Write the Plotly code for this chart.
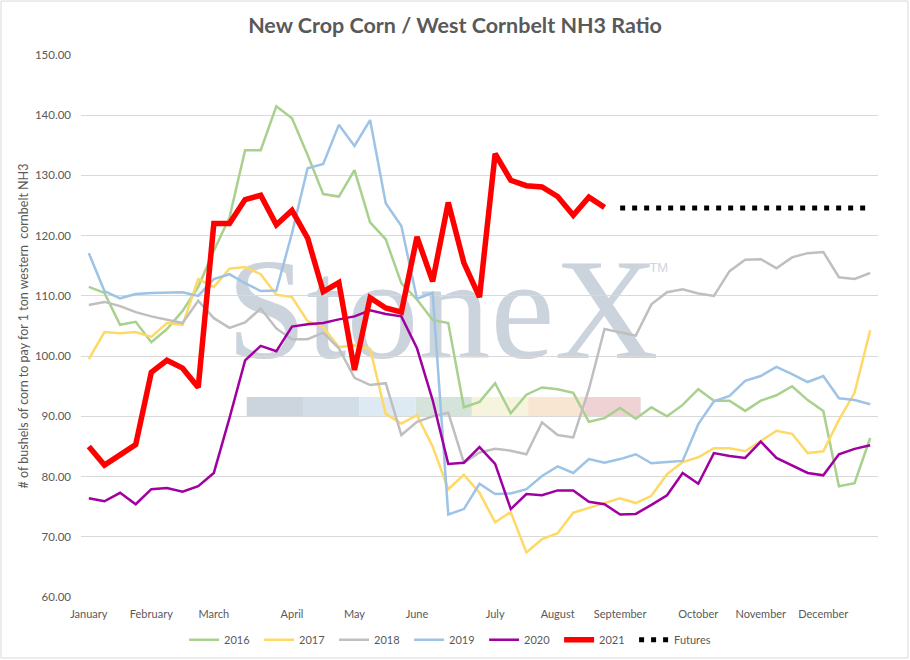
import plotly.graph_objects as go

# weekly points, index 0 = first week of January
weeks = list(range(51))
month_pos = [0, 4, 8, 13, 17, 21, 26, 30, 34, 39, 43, 47]
month_names = ["January", "February", "March", "April", "May", "June", "July",
               "August", "September", "October", "November", "December"]

y2016 = [111.5, 110.5, 105.2, 105.7, 102.3, 104.5, 107.5, 111.5, 117.5, 123.0,
         134.2, 134.2, 141.5, 139.5, 133.4, 126.9, 126.5, 130.9, 122.2, 119.4,
         112.1, 109.4, 106.0, 105.5, 91.5, 92.4, 95.5, 90.5, 93.6, 94.8,
         94.5, 93.9, 89.1, 89.7, 91.4, 89.6, 91.5, 90.0, 91.9, 94.5,
         92.6, 92.6, 90.9, 92.6, 93.5, 95.0, 92.7, 90.9, 78.4, 78.9, 86.4]
y2017 = [99.5, 104.0, 103.8, 104.0, 103.2, 105.5, 105.2, 112.8, 111.5, 114.5,
         114.8, 113.6, 110.2, 109.8, 105.8, 104.8, 101.5, 101.8, 101.2, 90.4,
         88.8, 90.2, 85.0, 77.9, 80.3, 77.3, 72.4, 74.1, 67.4, 69.6,
         70.6, 74.0, 74.8, 75.6, 76.4, 75.6, 76.8, 80.4, 82.4, 83.2,
         84.7, 84.7, 84.2, 85.9, 87.6, 87.1, 83.9, 84.2, 89.4, 93.9, 104.3]
y2018 = [108.5, 109.0, 108.3, 107.3, 106.6, 106.0, 105.5, 109.2, 106.3, 104.7,
         105.6, 107.9, 104.6, 102.8, 102.8, 103.9, 101.3, 96.4, 95.2, 95.5,
         86.9, 89.1, 90.0, 90.6, 82.3, 84.0, 84.6, 84.3, 83.7, 89.0,
         86.9, 86.5, 94.5, 104.5, 104.0, 103.4, 108.6, 110.6, 111.1, 110.4,
         110.0, 114.1, 116.0, 116.1, 114.6, 116.4, 117.1, 117.3, 113.1, 112.8, 113.8]
y2019 = [117.1, 110.8, 109.6, 110.3, 110.5, 110.6, 110.6, 110.0, 112.8, 113.6,
         112.1, 110.8, 110.9, 120.4, 131.2, 131.9, 138.4, 134.9, 139.2, 125.4,
         121.6, 109.5, 110.5, 73.7, 74.6, 78.8, 77.1, 77.2, 77.9, 80.1,
         81.7, 80.6, 82.9, 82.3, 82.9, 83.7, 82.2, 82.4, 82.6, 88.7,
         92.5, 93.4, 95.9, 96.7, 98.2, 97.0, 95.7, 96.7, 93.0, 92.7, 92.0]
y2020 = [76.4, 75.9, 77.3, 75.4, 77.9, 78.1, 77.5, 78.4, 80.6, 89.7,
         99.3, 101.7, 100.8, 104.9, 105.3, 105.5, 106.1, 106.6, 107.6, 107.0,
         106.6, 101.3, 92.7, 82.1, 82.3, 84.9, 82.1, 74.6, 77.1, 76.9,
         77.7, 77.7, 75.8, 75.4, 73.7, 73.8, 75.3, 76.9, 80.6, 78.8,
         83.9, 83.4, 83.1, 85.8, 83.1, 81.9, 80.6, 80.2, 83.7, 84.6, 85.2]
y2021 = [85.0, 81.9, 83.6, 85.3, 97.3, 99.3, 98.0, 94.8, 122.0, 122.0,
         126.0, 126.7, 121.8, 124.2, 119.6, 110.7, 112.2, 97.7, 109.7, 108.0,
         107.3, 119.8, 112.4, 125.5, 115.5, 109.8, 133.6, 129.2, 128.3, 128.1,
         126.5, 123.4, 126.4, 124.7]
futures_weeks = weeks[34:]
futures = [124.6, 124.6, 124.6, 124.6, 124.6, 124.6, 124.6, 124.6, 124.6,
           124.6, 124.6, 124.6, 124.6, 124.6, 124.6, 124.6, 124.6]

series = [
    ("2016", y2016, "#A9D18E", 2.5),
    ("2017", y2017, "#FFD966", 2.5),
    ("2018", y2018, "#BFBFBF", 2.5),
    ("2019", y2019, "#9DC3E6", 2.5),
    ("2020", y2020, "#A100A1", 2.5),
    ("2021", y2021, "#FF0000", 5.5),
]

fig = go.Figure()
for name, vals, color, w in series:
    fig.add_trace(go.Scatter(x=weeks[:len(vals)], y=vals, mode="lines", name=name,
                             line=dict(color=color, width=w)))
fig.add_trace(go.Scatter(x=futures_weeks, y=futures, mode="lines", name="Futures",
                         legendwidth=48,
                         line=dict(color="black", width=5, dash="5px,7px")))

# StoneX watermark behind the lines
band_colors = ["#ccd4dd", "#d3dde8", "#deeaf3", "#d4e4da", "#f6f4dc", "#f8e6d2", "#efd2d4"]
shapes = []
seg = 0.0706
for k, c in enumerate(band_colors):
    shapes.append(dict(type="rect", xref="paper", yref="paper", layer="below",
                       x0=0.208 + k * seg, x1=0.208 + (k + 1) * seg, y0=0.332, y1=0.369,
                       fillcolor=c, line=dict(width=0)))
shapes.append(dict(type="rect", xref="paper", yref="paper", layer="below",
                   x0=0.208, x1=0.699, y0=0.46, y1=0.66,
                   fillcolor="rgba(0,0,0,0)", line=dict(width=0),
                   label=dict(text="StoneX", textposition="middle center",
                              font=dict(family="Liberation Serif", size=144, color="#cbd3dc"))))
shapes.append(dict(type="rect", xref="paper", yref="paper", layer="below",
                   x0=0.71, x1=0.74, y0=0.59, y1=0.63,
                   fillcolor="rgba(0,0,0,0)", line=dict(width=0),
                   label=dict(text="TM", textposition="middle center",
                              font=dict(family="Liberation Sans", size=13, color="#cfd5dd"))))
# outer border
shapes.append(dict(type="rect", xref="paper", yref="paper", layer="below",
                   x0=-0.1004, x1=1.0376, y0=-0.1125, y1=1.0996,
                   fillcolor="rgba(0,0,0,0)", line=dict(color="#d9d9d9", width=1)))

fig.update_layout(
    width=910, height=660,
    margin=dict(l=81, r=32, t=55, b=63, autoexpand=False),
    paper_bgcolor="white", plot_bgcolor="white",
    font=dict(family="Lato", size=11, color="#595959"),
    title=dict(text="<b>New Crop Corn / West Cornbelt NH3 Ratio</b>",
               x=0.5, xref="container", xanchor="center",
               y=1 - 25 / 660, yref="container", yanchor="middle",
               font=dict(family="Lato", size=21.5, color="#595959")),
    xaxis=dict(range=[-0.5, 50.5], tickmode="array", tickvals=month_pos, ticktext=month_names,
               showgrid=False, zeroline=False, showline=False, ticks="",
               ticklabelstandoff=9, automargin=False,
               tickfont=dict(size=11, color="#595959")),
    yaxis=dict(range=[60, 150], dtick=10, tickformat=".2f", showgrid=True,
               gridcolor="#d9d9d9", gridwidth=1, zeroline=False, showline=False, ticks="",
               ticklabelstandoff=9, automargin=False,
               tickfont=dict(size=11.5, color="#595959"),
               title=dict(text="# of bushels of corn to pay for 1 ton western  cornbelt NH3",
                          font=dict(size=12.5, color="#595959"), standoff=3)),
    legend=dict(orientation="h", x=0.47, xanchor="center", y=-0.079, yanchor="middle",
                font=dict(size=11, color="#595959"), bgcolor="rgba(0,0,0,0)",
                entrywidth=30, entrywidthmode="pixels", traceorder="normal"),
    shapes=shapes,
)

fig.write_html("out.html", config={"displayModeBar": False},
               post_script="document.body.style.margin='0';"
                           "document.body.style.overflow='hidden';"
                           "document.documentElement.style.overflow='hidden';")
